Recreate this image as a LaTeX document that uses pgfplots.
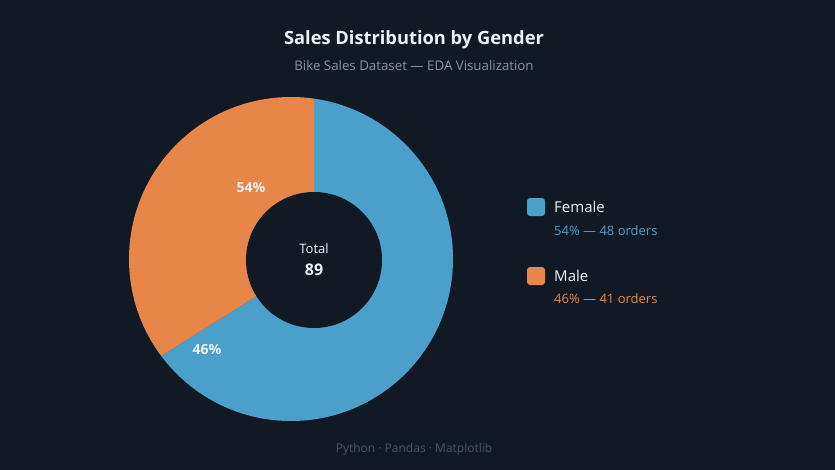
\documentclass[border=0pt]{standalone}
\usepackage{fontspec}
\setmainfont{Open Sans}
\usepackage{pgfplots}
\pgfplotsset{compat=1.18}
\definecolor{bg}{HTML}{111A24}
\definecolor{cblue}{HTML}{4A9FCB}
\definecolor{corange}{HTML}{E8864A}
\definecolor{subgray}{HTML}{8593A5}
\definecolor{footgray}{HTML}{4B5563}
\definecolor{txt}{HTML}{EEF2F6}
\begin{document}
\begin{tikzpicture}
\fill[bg] (0,0) rectangle (835pt,470pt);
\begin{axis}[scale only axis, width=835pt, height=470pt,
  xmin=0, xmax=835, ymin=0, ymax=470, y dir=reverse,
  hide axis, clip=true]
% donut: Female 48 orders (blue), Male 41 orders (orange), total 89
\begin{scope}
\clip (axis cs:291,259) circle[radius=162pt];
\addplot[fill=cblue, draw=none] coordinates {(314,260) (314,-300) (1000,-300) (1000,1000) (-298,1000) (-298,644)} -- cycle;
\addplot[fill=corange, draw=none] coordinates {(314,260) (314,-300) (-300,-300) (-298,644)} -- cycle;
\end{scope}
\fill[bg] (axis cs:314,260) circle[radius=68pt];
% legend swatches
\addplot[fill=cblue, draw=none, rounded corners=3pt] coordinates {(527,198) (545,198) (545,216) (527,216)} -- cycle;
\addplot[fill=corange, draw=none, rounded corners=3pt] coordinates {(527,267) (545,267) (545,285) (527,285)} -- cycle;
% texts
\node[font=\bfseries\fontsize{18.3}{22}\selectfont, text=txt] at (axis cs:414,40) {Sales Distribution by Gender};
\node[font=\fontsize{13.3}{15}\selectfont, text=subgray] at (axis cs:414,66) {Bike Sales Dataset — EDA Visualization};
\node[font=\fontsize{13}{15}\selectfont, text=txt] at (axis cs:314,249) {Total};
\node[font=\bfseries\fontsize{16}{18}\selectfont, text=txt] at (axis cs:314,270) {89};
\node[font=\bfseries\fontsize{14}{16}\selectfont, text=txt] at (axis cs:251,187) {54\%};
\node[font=\bfseries\fontsize{14}{16}\selectfont, text=txt] at (axis cs:207,349) {46\%};
\node[font=\fontsize{15}{18}\selectfont, text=txt, anchor=west, inner sep=0pt] at (axis cs:554,207) {Female};
\node[font=\fontsize{13}{15}\selectfont, text=cblue, anchor=west, inner sep=0pt] at (axis cs:554,231) {54\% — 48 orders};
\node[font=\fontsize{15}{18}\selectfont, text=txt, anchor=west, inner sep=0pt] at (axis cs:554,276) {Male};
\node[font=\fontsize{13}{15}\selectfont, text=corange, anchor=west, inner sep=0pt] at (axis cs:554,299) {46\% — 41 orders};
\node[font=\fontsize{12}{14}\selectfont, text=footgray] at (axis cs:414,449) {Python · Pandas · Matplotlib};
\end{axis}
\end{tikzpicture}
\end{document}
